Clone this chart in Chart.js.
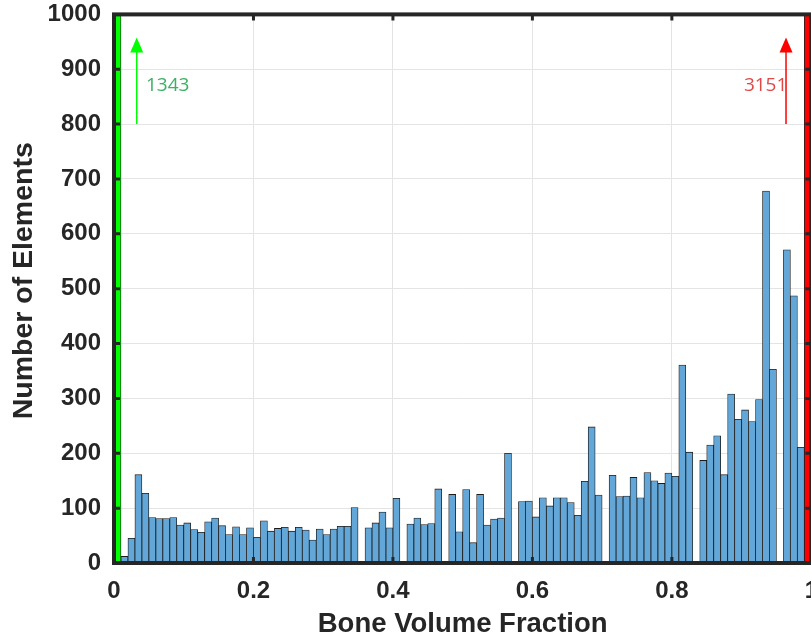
<!DOCTYPE html>
<html>
<head>
<meta charset="utf-8">
<title>Bone Volume Fraction histogram</title>
<script src="https://cdn.jsdelivr.net/npm/chart.js@4.4.1/dist/chart.umd.min.js"></script>
<style>
  html, body { margin: 0; padding: 0; background: #fff; overflow: hidden; }
  /* canvas is a bit larger than the window so the plot box sits flush top/right */
  canvas { display: block; margin-top: -13px; }
</style>
</head>
<body>
<canvas id="bvf-hist" width="832" height="654"></canvas>
<script>
// histogram bins: 100 bins of width 0.01 starting at 0
var binStart = 0;
var binWidth = 0.01;

// element count per bin (first and last bins run off the top of the axis)
var counts = [
  1343, 12, 45, 161, 127, 83, 81, 81, 83, 69,
  73, 61, 56, 75, 82, 68, 52, 66, 52, 64,
  47, 77, 58, 63, 65, 58, 65, 60, 42, 62,
  52, 62, 67, 67, 101, 0, 64, 73, 93, 64,
  118, 0, 71, 82, 70, 72, 135, 0, 125, 57,
  134, 37, 125, 69, 80, 82, 200, 0, 112, 113,
  84, 119, 104, 119, 119, 110, 87, 149, 248, 124,
  0, 160, 121, 122, 156, 119, 165, 150, 145, 164,
  158, 361, 202, 0, 187, 215, 232, 161, 308, 262,
  279, 258, 298, 678, 353, 0, 571, 487, 211, 3151
];

var xTickValues = [0, 0.2, 0.4, 0.6, 0.8, 1];
var xTickLabels = ['0', '0.2', '0.4', '0.6', '0.8', '1'];
var yTickValues = [0, 100, 200, 300, 400, 500, 600, 700, 800, 900, 1000];

var textColor = '#262626';
var barBlue = '#62a7d8';
var lowColor = '#00ff00';
var highColor = '#ff0000';

// arrows pointing at the clipped end bins, placed in data units
var arrowNotes = [
  { bin: 0, x: 0.0326, textX: 0.0459, align: 'left', line: lowColor, text: '#3cb064' },
  { bin: counts.length - 1, x: 0.9637, textX: 0.9656, align: 'right', line: highColor, text: '#e04848' }
];
var arrowFrom = 800;
var arrowTo = 958;
var arrowTextY = 860;

var points = counts.map(function (c, i) {
  return { x: binStart + binWidth * (i + 0.5), y: c };
});

var barColors = counts.map(function (c, i) {
  if (i === 0) return lowColor;
  if (i === counts.length - 1) return highColor;
  return barBlue;
});

var frameAndArrows = {
  id: 'frameAndArrows',
  afterDatasetsDraw: function (chart) {
    var ctx = chart.ctx;
    var area = chart.chartArea;
    var xs = chart.scales.x;
    var ys = chart.scales.y;
    var tickLen = 6;

    ctx.save();
    ctx.strokeStyle = textColor;
    ctx.lineWidth = 3;
    ctx.beginPath();
    yTickValues.forEach(function (v) {
      var py = ys.getPixelForValue(v);
      ctx.moveTo(area.left, py);
      ctx.lineTo(area.left + tickLen, py);
      ctx.moveTo(area.right, py);
      ctx.lineTo(area.right - tickLen, py);
    });
    xTickValues.forEach(function (v) {
      var px = xs.getPixelForValue(v);
      ctx.moveTo(px, area.bottom);
      ctx.lineTo(px, area.bottom - tickLen);
      ctx.moveTo(px, area.top);
      ctx.lineTo(px, area.top + tickLen);
    });
    ctx.stroke();

    // axes box
    ctx.lineWidth = 4;
    ctx.strokeRect(area.left, area.top, area.right - area.left, area.bottom - area.top);

    // arrows and the real counts of the clipped bins
    arrowNotes.forEach(function (a) {
      var px = xs.getPixelForValue(a.x);
      var y0 = ys.getPixelForValue(arrowFrom);
      var y1 = ys.getPixelForValue(arrowTo);
      ctx.strokeStyle = a.line;
      ctx.fillStyle = a.line;
      ctx.lineWidth = 1.5;
      ctx.beginPath();
      ctx.moveTo(px, y0);
      ctx.lineTo(px, y1 + 12);
      ctx.stroke();
      ctx.beginPath();
      ctx.moveTo(px, y1);
      ctx.lineTo(px - 6.5, y1 + 15);
      ctx.lineTo(px + 6.5, y1 + 15);
      ctx.closePath();
      ctx.fill();

      ctx.fillStyle = a.text;
      ctx.font = '19px "Open Sans", "Noto Sans", sans-serif';
      ctx.textAlign = a.align;
      ctx.textBaseline = 'alphabetic';
      ctx.fillText(String(counts[a.bin]), xs.getPixelForValue(a.textX), ys.getPixelForValue(arrowTextY));
    });
    ctx.restore();
  }
};

Chart.defaults.font.family = '"Liberation Sans", Arial, sans-serif';
Chart.defaults.color = textColor;

new Chart(document.getElementById('bvf-hist'), {
  type: 'bar',
  data: {
    datasets: [{
      data: points,
      backgroundColor: barColors,
      borderColor: '#1c1c1c',
      borderWidth: 0.8,
      categoryPercentage: 1,
      barPercentage: 1,
      clip: 0
    }]
  },
  options: {
    responsive: false,
    animation: false,
    layout: { padding: 0 },
    plugins: { legend: { display: false }, tooltip: { enabled: false } },
    scales: {
      x: {
        type: 'linear',
        min: 0,
        max: 1,
        offset: false,
        afterBuildTicks: function (scale) {
          scale.ticks = xTickValues.map(function (v) { return { value: v }; });
        },
        afterFit: function (scale) { scale.height = 78; },
        ticks: {
          padding: 14,
          font: { size: 24, weight: 'bold' },
          callback: function (value, index) { return xTickLabels[index]; }
        },
        grid: { color: '#e4e4e4', lineWidth: 1, drawTicks: false, offset: false },
        border: { display: false },
        title: {
          display: true,
          text: 'Bone Volume Fraction',
          font: { size: 27.5, weight: 'bold' },
          padding: { top: 0, bottom: 0 }
        }
      },
      y: {
        min: 0,
        max: 1000,
        afterBuildTicks: function (scale) {
          scale.ticks = yTickValues.map(function (v) { return { value: v }; });
        },
        afterFit: function (scale) { scale.width = 114; },
        ticks: {
          padding: 13,
          font: { size: 24, weight: 'bold' },
          callback: function (value) { return String(value); }
        },
        grid: { color: '#e4e4e4', lineWidth: 1, drawTicks: false },
        border: { display: false },
        title: {
          display: true,
          // two leading spaces nudge the centred title up a little, as in the source
          text: '  Number of Elements',
          font: { size: 28.5, weight: 'bold' },
          padding: { top: 7, bottom: 0 }
        }
      }
    }
  },
  plugins: [frameAndArrows]
});
</script>
</body>
</html>
